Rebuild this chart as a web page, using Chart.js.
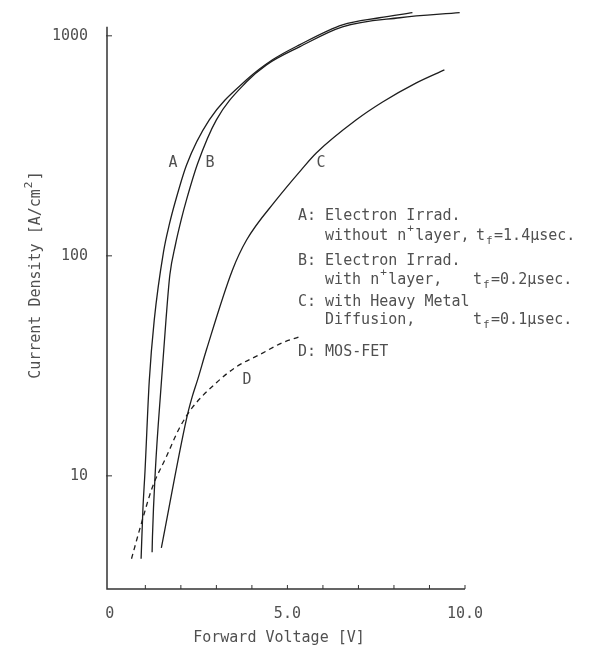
<!DOCTYPE html>
<html>
<head>
<meta charset="utf-8">
<script src="https://cdn.jsdelivr.net/npm/chart.js@4"></script>
<style>
  html, body { margin: 0; padding: 0; background: #fff; }
  #wrap { width: 589px; height: 652px; }
</style>
</head>
<body>
<div id="wrap"><canvas id="chart" width="589" height="652"></canvas></div>
<script>
// forward voltage [V] / current density [A/cm2]
const voltA = [0.88, 0.93, 0.99, 1.11, 1.25, 1.51, 1.68, 1.85, 2.16, 2.80, 3.85, 4.58, 5.34, 6.55, 7.59, 8.52];
const currA = [4.2, 7.0, 10.5, 27, 51, 104, 140, 178, 259, 415, 631, 778, 910, 1122, 1208, 1274];

const voltB = [1.19, 1.20, 1.28, 1.45, 1.58, 1.69, 1.845, 2.01, 2.16, 2.47, 3.00, 3.85, 4.41, 5.34, 6.55, 8.16, 9.85];
const currB = [4.5, 5.3, 10.5, 26.5, 51, 82, 112, 146, 180, 262, 415, 618, 738, 891, 1099, 1208, 1274];

const voltC = [1.45, 2.16, 2.32, 2.47, 2.72, 3.45, 3.85, 4.69, 5.39, 5.82, 6.94, 7.68, 8.63, 9.42];
const currC = [4.7, 18.2, 22.9, 27.3, 37.4, 86, 118, 180, 246, 294, 415, 500, 611, 700];

const voltD = [0.61, 0.89, 1.20, 1.59, 1.96, 2.32, 3.00, 3.56, 4.21, 4.86, 5.34];
const currD = [4.2, 6.1, 8.9, 12.2, 16.5, 20.4, 26.5, 31.3, 35.5, 40.3, 42.9];

const yTicks = [10, 100, 1000];
const xTicks = [0, 1, 2, 3, 4, 5, 6, 7, 8, 9, 10];
const xTickLabels = { 0: '0', 5: '5.0', 10: '10.0' };

const FONT = '15px "DejaVu Sans Mono", "Liberation Mono", monospace';
const INK = '#505050';

function pts(xs, ys) {
  return xs.map((x, i) => ({ x: x, y: ys[i] }));
}

// draws text pieces one after another, some raised or lowered
function drawRich(ctx, x, y, parts) {
  let cx = x;
  parts.forEach(p => {
    const txt = typeof p === 'string' ? p : p.t;
    const kind = typeof p === 'string' ? 'n' : p.k;
    if (kind === 'n') {
      ctx.font = FONT;
      ctx.fillText(txt, cx, y);
      cx += ctx.measureText(txt).width;
    } else {
      ctx.font = '11px "DejaVu Sans Mono", monospace';
      const dy = kind === 'sup' ? -7 : 5;
      ctx.fillText(txt, cx + 1, y + dy);
      ctx.font = FONT;
      cx += ctx.measureText('m').width;
    }
  });
}

const decor = {
  id: 'decor',
  afterDraw(chart) {
    const ctx = chart.ctx;
    const xs = chart.scales.x, ys = chart.scales.y;
    const left = xs.getPixelForValue(xs.min);
    const bottom = ys.getPixelForValue(ys.min);
    ctx.save();

    // axes
    ctx.strokeStyle = '#333';
    ctx.lineWidth = 1.5;
    ctx.beginPath();
    ctx.moveTo(left, ys.getPixelForValue(1100));
    ctx.lineTo(left, bottom);
    ctx.lineTo(xs.getPixelForValue(10), bottom);
    ctx.stroke();

    // inward ticks
    ctx.lineWidth = 1;
    ctx.beginPath();
    yTicks.forEach(v => {
      const py = ys.getPixelForValue(v);
      ctx.moveTo(left - 1, py);
      ctx.lineTo(left + 5, py);
    });
    xTicks.forEach(v => {
      if (v === 0) return;
      const px = xs.getPixelForValue(v);
      ctx.moveTo(px, bottom);
      ctx.lineTo(px, bottom - 4);
    });
    ctx.stroke();

    ctx.fillStyle = INK;
    ctx.font = FONT;
    ctx.textBaseline = 'middle';

    // curve names
    ctx.textAlign = 'center';
    ctx.fillText('A', 173, 163);
    ctx.fillText('B', 210, 163);
    ctx.fillText('C', 321, 163);
    ctx.fillText('D', 247, 380);

    // x title
    ctx.fillText('Forward Voltage [V]', 279, 638);

    // legend
    ctx.textAlign = 'left';
    drawRich(ctx, 298, 216, ['A: Electron Irrad.']);
    drawRich(ctx, 325, 236, ['without n', { t: '+', k: 'sup' }, 'layer,']);
    drawRich(ctx, 476, 236, ['t', { t: 'f', k: 'sub' }, '=1.4\u03bcsec.']);
    drawRich(ctx, 298, 261, ['B: Electron Irrad.']);
    drawRich(ctx, 325, 280, ['with n', { t: '+', k: 'sup' }, 'layer,']);
    drawRich(ctx, 473, 280, ['t', { t: 'f', k: 'sub' }, '=0.2\u03bcsec.']);
    drawRich(ctx, 298, 302, ['C: with Heavy Metal']);
    drawRich(ctx, 325, 320, ['Diffusion,']);
    drawRich(ctx, 473, 320, ['t', { t: 'f', k: 'sub' }, '=0.1\u03bcsec.']);
    drawRich(ctx, 298, 352, ['D: MOS-FET']);

    // y title
    ctx.translate(36, 275);
    ctx.rotate(-Math.PI / 2);
    ctx.font = FONT;
    const w = ctx.measureText('Current Density [A/cm]').width + ctx.measureText('m').width;
    drawRich(ctx, -w / 2, 0, ['Current Density [A/cm', { t: '2', k: 'sup' }, ']']);

    ctx.restore();
  }
};

const lineStyle = {
  borderColor: '#1e1e1e',
  borderWidth: 1.3,
  pointRadius: 0,
  fill: false,
  cubicInterpolationMode: 'monotone'
};

new Chart(document.getElementById('chart').getContext('2d'), {
  type: 'line',
  data: {
    datasets: [
      Object.assign({ label: 'A', data: pts(voltA, currA) }, lineStyle),
      Object.assign({ label: 'B', data: pts(voltB, currB) }, lineStyle),
      Object.assign({ label: 'C', data: pts(voltC, currC) }, lineStyle),
      Object.assign({ label: 'D', data: pts(voltD, currD), borderDash: [5, 4] }, lineStyle)
    ]
  },
  options: {
    animation: false,
    responsive: false,
    layout: { padding: { top: 7, right: 124, left: 0, bottom: 0 } },
    scales: {
      x: {
        type: 'linear',
        min: -0.08,
        max: 10,
        afterFit: s => {
          s.height = 63;
          s.paddingLeft = 0; s.paddingRight = 0;
        },
        afterBuildTicks: s => { s.ticks = xTicks.map(v => ({ value: v })); },
        grid: { display: false, drawTicks: false },
        border: { display: false },
        ticks: {
          autoSkip: false,
          maxRotation: 0,
          padding: 16,
          color: INK,
          font: { family: '"DejaVu Sans Mono", monospace', size: 15 },
          callback: v => xTickLabels[v] || ''
        }
      },
      y: {
        type: 'logarithmic',
        min: 3.06,
        max: 1352,
        afterFit: s => {
          s.width = 107;
          s.paddingTop = 0; s.paddingBottom = 0;
        },
        afterBuildTicks: s => { s.ticks = yTicks.map(v => ({ value: v })); },
        grid: { display: false, drawTicks: false },
        border: { display: false },
        ticks: {
          padding: 19,
          color: INK,
          font: { family: '"DejaVu Sans Mono", monospace', size: 15 },
          callback: v => String(v)
        }
      }
    },
    plugins: {
      legend: { display: false },
      tooltip: { enabled: false }
    }
  },
  plugins: [decor]
});
</script>
</body>
</html>
